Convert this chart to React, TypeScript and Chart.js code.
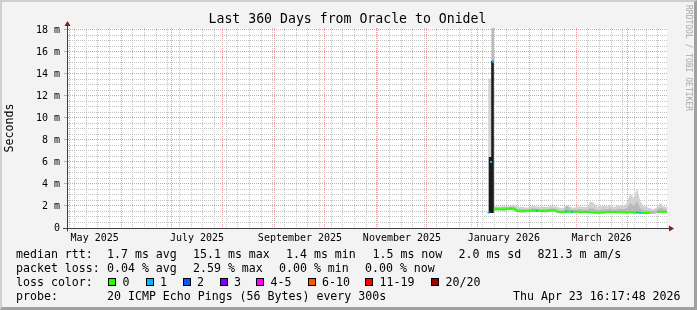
import React, { useEffect, useRef } from "react";
import { Chart, registerables } from "chart.js";

Chart.register(...registerables);

const MONO = "'DejaVu Sans Mono', monospace";

// ---------- data (x = days since start of the 360-day window) ----------
const dayOffsets = [
  252.7, 253.8, 254.6, 254.7, 255.3, 256.1, 256.3,
  258, 260, 262, 264, 266, 268, 270, 272, 274, 276, 278, 280, 282, 284, 286, 288, 290, 292, 294, 296, 298,
  300, 302, 304, 306, 308, 310, 312, 314, 316, 318, 320, 322, 324, 326, 328, 330, 332, 334, 336, 338,
  340, 342, 344, 346, 348, 350, 352, 354, 356, 358, 360,
];

// median rtt in ms
const medianMs = [
  null, null, null, null, null, 1.70, 1.70,
  1.70, 1.70, 1.68, 1.72, 1.75, 1.74, 1.55, 1.52, 1.52, 1.54, 1.57, 1.58, 1.56, 1.55, 1.53, 1.55, 1.58, 1.60, 1.50, 1.43, 1.45,
  1.50, 1.48, 1.48, 1.47, 1.45, 1.46, 1.45, 1.44, 1.40, 1.38, 1.40, 1.42, 1.45, 1.46, 1.45, 1.44, 1.46, 1.44, 1.42, 1.45,
  1.40, 1.42, 1.38, 1.36, 1.36, 1.36, null, 1.45, 1.48, 1.48, 1.46,
];

// smoke: lowest ping, inner (dense) band top, highest ping (ms)
const smokeLoMs = [
  1.35, 1.35, 1.40, 1.40, 1.45, 1.55, 1.60,
  1.62, 1.62, 1.60, 1.64, 1.66, 1.65, 1.47, 1.44, 1.44, 1.46, 1.49, 1.50, 1.48, 1.47, 1.45, 1.47, 1.50, 1.52, 1.42, 1.36, 1.37,
  1.38, 1.40, 1.40, 1.39, 1.37, 1.38, 1.37, 1.36, 1.33, 1.31, 1.33, 1.34, 1.37, 1.38, 1.37, 1.36, 1.38, 1.36, 1.34, 1.37,
  1.32, 1.34, 1.31, 1.29, 1.29, 1.29, 1.30, 1.37, 1.40, 1.40, 1.38,
];
const smokeMidMs = [
  1.35, 1.35, 1.40, 18.18, 18.18, 18.18, 1.90,
  1.88, 1.86, 1.88, 1.90, 1.92, 1.95, 1.75, 1.70, 1.72, 1.70, 1.76, 1.78, 1.75, 1.72, 1.74, 1.72, 1.78, 1.80, 1.70, 1.62, 1.64,
  2.05, 1.68, 1.66, 1.68, 1.70, 1.66, 1.68, 1.80, 1.75, 1.62, 1.66, 1.70, 1.68, 1.76, 1.66, 1.70, 1.75, 1.70, 1.85, 2.30,
  2.00, 2.40, 1.80, 1.62, 1.58, 1.56, 1.55, 1.65, 1.85, 1.70, 1.66,
];
const smokeHiMs = [
  13.6, 13.6, 13.6, 18.18, 18.18, 18.18, 1.95,
  1.95, 1.95, 2.00, 1.95, 2.00, 2.15, 1.95, 1.90, 1.90, 1.85, 1.95, 2.00, 1.95, 1.90, 1.95, 1.90, 2.00, 2.00, 1.90, 1.85, 1.85,
  2.10, 1.90, 1.85, 1.90, 1.95, 1.90, 1.90, 2.40, 2.30, 1.90, 1.95, 2.00, 1.95, 2.10, 1.90, 2.00, 2.10, 2.00, 2.30, 3.20,
  2.70, 3.60, 2.40, 2.00, 1.90, 1.80, 1.70, 1.90, 2.30, 1.95, 1.90,
];

// dark spread bars of the late-December spike
const spikeDays = [253.8, 253.8, 254.9, 255.3, 255.3];
const spikeMs = [1.36, 6.45, null, 15.2, 1.36];

// median samples with 1/20 loss
const loss1Days = [252.9, 254.4, 255.6, 282, 299.4, 303, 342, 343.8];
const loss1Ms = [1.40, 6.0, 15.1, 1.56, 1.50, 1.48, 1.42, 1.38];

// ---------- axes ----------
const monthStartDays = [1.42, 32.42, 62.42, 93.42, 124.42, 154.42, 185.42, 215.42, 246.42, 277.42, 305.42, 336.42];
const firstWeekDay = 4.42;
const xLabelDays = [16.6, 78.0, 139.8, 201.0, 262.1, 320.8];
const xLabelTexts = ["May 2025", "July 2025", "September 2025", "November 2025", "January 2026", "March 2026"];
const yMajorValues = [0, 2, 4, 6, 8, 10, 12, 14, 16, 18];
const yMajorLabels = ["0", "2 m", "4 m", "6 m", "8 m", "10 m", "12 m", "14 m", "16 m", "18 m"];
const yMax = 18.18;

// ---------- legend ----------
const title = "Last 360 Days from Oracle to Onidel";
const rttItems: [number, string][] = [
  [16, "median rtt:"], [107, "1.7 ms avg"], [193, "15.1 ms max"], [286, "1.4 ms min"],
  [372.5, "1.5 ms now"], [458.5, "2.0 ms sd"], [537.5, "821.3 m am/s"],
];
const lossItems: [number, string][] = [
  [16, "packet loss:"], [107, "0.04 % avg"], [193, "2.59 % max"], [279, "0.00 % min"], [365, "0.00 % now"],
];
const lossColorLabels = ["0", "1", "2", "3", "4-5", "6-10", "11-19", "20/20"];
const lossColors = ["#26ff00", "#00b8ff", "#0059ff", "#7e00ff", "#ff00ff", "#ff5500", "#ff0000", "#a10000"];
const lossBoxX = [108, 145.5, 182.5, 219.5, 256, 307.5, 365, 431];
const probeItems: [number, string][] = [
  [16, "probe:"], [107, "20 ICMP Echo Pings (56 Bytes) every 300s"], [513, "Thu Apr 23 16:17:48 2026"],
];

const MAJOR = "#ef9a9a";
const MINOR = "#c4c4c4";

const xy = (xs: number[], ys: (number | null)[]) => xs.map((x, i) => ({ x, y: ys[i] }));

const rrdFrame = {
  id: "rrdFrame",
  beforeDraw(chart: any) {
    const { ctx, chartArea: a } = chart;
    ctx.save();
    ctx.fillStyle = "#ffffff";
    ctx.fillRect(a.left, a.top, a.right - a.left, a.bottom - a.top);
    ctx.restore();
  },
  afterDraw(chart: any) {
    const { ctx, chartArea: a } = chart;
    const lx = Math.round(a.left) + 0.5;
    const by = Math.round(a.bottom) + 0.5;
    ctx.save();
    ctx.strokeStyle = "#404040";
    ctx.lineWidth = 1;
    ctx.beginPath();
    ctx.moveTo(lx, by + 3);
    ctx.lineTo(lx, a.top - 2);
    ctx.moveTo(a.left - 4, by);
    ctx.lineTo(a.right + 2, by);
    ctx.stroke();
    ctx.fillStyle = "#8b1a1a";
    ctx.beginPath();
    ctx.moveTo(lx - 3, a.top - 2);
    ctx.lineTo(lx + 3, a.top - 2);
    ctx.lineTo(lx, a.top - 7);
    ctx.closePath();
    ctx.fill();
    ctx.beginPath();
    ctx.moveTo(a.right + 2, by - 3);
    ctx.lineTo(a.right + 2, by + 3);
    ctx.lineTo(a.right + 7, by);
    ctx.closePath();
    ctx.fill();
    ctx.restore();
  },
};

function Row({ x, y, text }: { x: number; y: number; text: string }) {
  return (
    <div
      style={{
        position: "absolute", left: x, top: y, whiteSpace: "pre", fontFamily: MONO,
        fontSize: "11.6px", lineHeight: "14px", color: "#000",
      }}
    >
      {text}
    </div>
  );
}

export default function App() {
  const ref = useRef<HTMLCanvasElement>(null);

  useEffect(() => {
    document.body.style.margin = "0";
    const xTicks: any[] = [];
    for (let d = firstWeekDay; d < 360; d += 7) xTicks.push({ value: d, kind: "week" });
    monthStartDays.forEach((d) => xTicks.push({ value: d, kind: "month" }));
    xLabelDays.forEach((d, i) => xTicks.push({ value: d, kind: "label", text: xLabelTexts[i] }));

    const chart = new Chart(ref.current!, {
      type: "line",
      data: {
        datasets: [
          {
            label: "loss 1/20",
            data: xy(loss1Days, loss1Ms),
            showLine: false,
            pointStyle: "rect",
            pointRadius: 1.4,
            pointBorderWidth: 0,
            pointBackgroundColor: lossColors[1],
          },
          {
            label: "median rtt",
            data: xy(dayOffsets, medianMs),
            borderColor: lossColors[0],
            borderWidth: 2,
            pointRadius: 0,
            spanGaps: false,
          },
          {
            label: "spike",
            data: xy(spikeDays, spikeMs),
            borderColor: "#1c1c1c",
            borderWidth: 2.5,
            pointRadius: 0,
            spanGaps: false,
          },
          {
            label: "smoke inner",
            data: xy(dayOffsets, smokeMidMs),
            borderColor: "transparent",
            borderWidth: 1,
            pointRadius: 0,
            fill: 5,
            backgroundColor: "#b9b9b9",
          },
          {
            label: "smoke outer",
            data: xy(dayOffsets, smokeHiMs),
            borderColor: "transparent",
            borderWidth: 1,
            pointRadius: 0,
            fill: 5,
            backgroundColor: "#d2d2d2",
          },
          {
            label: "smoke low",
            data: xy(dayOffsets, smokeLoMs),
            borderColor: "transparent",
            borderWidth: 1,
            pointRadius: 0,
          },
        ],
      },
      options: {
        responsive: false,
        animation: false,
        events: [],
        layout: { padding: { top: 28, right: 30, bottom: 0, left: 0 } },
        plugins: { legend: { display: false }, tooltip: { enabled: false } },
        scales: {
          x: {
            type: "linear",
            min: 0,
            max: 360,
            afterBuildTicks: (s: any) => {
              s.ticks = xTicks.map((t) => ({ ...t }));
            },
            afterFit: (s: any) => {
              s.height = 82;
            },
            grid: {
              color: (c: any) => (c.tick?.kind === "month" ? MAJOR : c.tick?.kind === "week" ? MINOR : "transparent"),
              tickColor: "transparent",
              tickLength: 3,
              lineWidth: 1,
            },
            border: { display: true, color: "#404040", width: 1, dash: [1, 1] },
            ticks: {
              autoSkip: false,
              maxRotation: 0,
              minRotation: 0,
              padding: 1,
              color: "#000",
              font: { family: MONO, size: 10 },
              callback: (_v: any, i: number, ticks: any[]) => ticks[i]?.text ?? "",
            },
          },
          y: {
            type: "linear",
            min: 0,
            max: yMax,
            afterBuildTicks: (s: any) => {
              const t: any[] = [];
              for (let k = 0; k <= 36; k++) t.push({ value: k / 2 });
              s.ticks = t;
            },
            afterFit: (s: any) => {
              s.width = 67;
            },
            grid: {
              color: (c: any) => (yMajorValues.includes(c.tick?.value) ? MAJOR : MINOR),
              tickColor: (c: any) => (yMajorValues.includes(c.tick?.value) ? MAJOR : "transparent"),
              tickLength: 3,
              lineWidth: 1,
            },
            border: { display: true, color: "#404040", width: 1, dash: [1, 1] },
            ticks: {
              autoSkip: false,
              padding: 4,
              color: "#000",
              font: { family: MONO, size: 10 },
              callback: (v: any) => {
                const i = yMajorValues.indexOf(v);
                return i >= 0 ? yMajorLabels[i] : "";
              },
            },
            title: {
              display: true,
              text: "Seconds",
              color: "#000",
              font: { family: MONO, size: 11.6 },
              padding: { top: 3, bottom: 0 },
            },
          },
        },
      },
      plugins: [rrdFrame],
    } as any);
    return () => chart.destroy();
  }, []);

  return (
    <div style={{ position: "relative", width: 697, height: 310, background: "#f3f3f3", overflow: "hidden" }}>
      <canvas ref={ref} width={697} height={310} style={{ position: "absolute", left: 0, top: 0, width: 697, height: 310 }} />
      <div
        style={{
          position: "absolute", left: 0, top: 11, width: 695, textAlign: "center", fontFamily: MONO,
          fontSize: "13.2px", lineHeight: "16px", color: "#000", whiteSpace: "pre",
        }}
      >
        {title}
      </div>
      <div
        style={{
          position: "absolute", left: 683.5, top: 5, writingMode: "vertical-rl", fontFamily: MONO,
          fontSize: "8px", lineHeight: "9px", color: "#a8a8a8", whiteSpace: "pre",
        }}
      >
        RRDTOOL / TOBI OETIKER
      </div>
      {rttItems.map(([x, t]) => <Row key={"r" + x} x={x} y={247} text={t} />)}
      {lossItems.map(([x, t]) => <Row key={"l" + x} x={x} y={261} text={t} />)}
      <Row x={16} y={275} text="loss color:" />
      {lossColorLabels.map((t, i) => (
        <React.Fragment key={"c" + i}>
          <div
            style={{
              position: "absolute", left: lossBoxX[i], top: 277.5, width: 8, height: 8, boxSizing: "border-box",
              border: "1px solid #000", background: lossColors[i],
            }}
          />
          <Row x={lossBoxX[i] + 14.5} y={275} text={t} />
        </React.Fragment>
      ))}
      {probeItems.map(([x, t]) => <Row key={"p" + x} x={x} y={289} text={t} />)}
      <div
        style={{
          position: "absolute", left: 0, top: 0, width: 697, height: 310, boxSizing: "border-box",
          borderTop: "2px solid #cfcfcf", borderLeft: "2px solid #cfcfcf",
          borderRight: "3px solid #a0a0a0", borderBottom: "3px solid #a0a0a0", pointerEvents: "none",
        }}
      />
    </div>
  );
}
